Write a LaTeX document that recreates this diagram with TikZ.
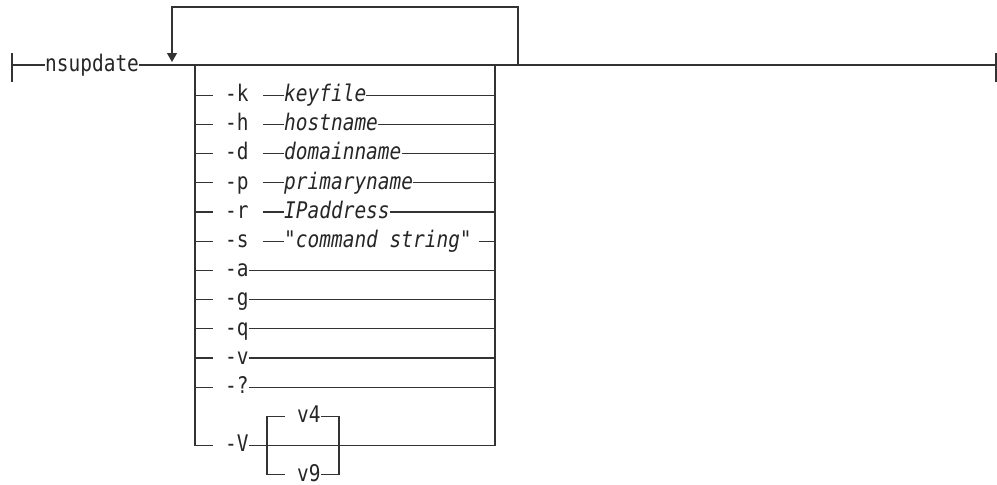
\documentclass[tikz,border=0pt]{standalone}
\usepackage{fontspec}
\usepackage{tikz}
\usetikzlibrary{arrows.meta, positioning}
\newfontfamily\synfam[FakeStretch=0.85]{DejaVu Sans Mono}
\newcommand{\synfont}{\synfam\fontsize{22.9}{26}\selectfont}

\begin{document}
\begin{tikzpicture}[
  x = 1pt, y = -1pt,
  rail/.style     = {line width=1.3pt, black!80},
  kw/.style       = {inner sep=0pt, text=black!85, font=\synfont},
  var/.style      = {inner sep=0pt, text=black!85, font=\synfont\itshape},
  loopback/.style = {rail, -{Triangle[length=9pt, width=10pt]}},
]
  \synfont % so that the mid anchors use the diagram's ex
  \useasboundingbox (0,0) rectangle (997,485);

  % main line
  \coordinate (start)  at (12,65);
  \coordinate (finish) at (996,65);
  \node[kw, anchor=mid west] (cmd) at (45,65) {nsupdate};
  \draw[rail] ([yshift=12pt]start) -- ([yshift=-17pt]start);
  \draw[rail] ([yshift=12pt]finish) -- ([yshift=-17pt]finish);
  \draw[rail] (start) -- (cmd.mid west);
  \draw[rail] (cmd.mid east) -- (finish);

  % repeat loop
  \coordinate (loopin)  at (518,65);
  \coordinate (loopout) at (172,62);
  \draw[loopback] (loopin) -- (518,7) -| (loopout);

  % choice box
  \coordinate (boxTL) at (195,65);
  \coordinate (boxTR) at (495,65);

  % options with a value
  \foreach \f/\a [count=\i] in {k/keyfile, h/hostname, d/domainname,
                                p/primaryname, r/IPaddress} {
    \coordinate (boxL\i) at (195,{95.2+(\i-1)*29.2});
    \coordinate (boxR\i) at (495,{95.2+(\i-1)*29.2});
    \node[kw, anchor=mid west]  (flag\i) at (225,{95.2+(\i-1)*29.2}) {-\f};
    \node[var, anchor=mid west] (arg\i)  at (284,{95.2+(\i-1)*29.2}) {\a};
    \draw[rail] (boxL\i) -- ++(18,0);
    \draw[rail] ([xshift=14pt]flag\i.mid east) -- (arg\i.mid west);
    \draw[rail] (arg\i.mid east) -- (boxR\i);
  }
  \coordinate (boxL6) at (195,241.2);
  \coordinate (boxR6) at (495,241.2);
  \node[kw, anchor=mid west]  (flag6) at (225,241.2) {-s};
  \node[var, anchor=mid west] (arg6)  at (284,241.2) {"command string"};
  \draw[rail] (boxL6) -- ++(18,0);
  \draw[rail] ([xshift=14pt]flag6.mid east) -- (arg6.mid west);
  \draw[rail] ([xshift=7pt]arg6.mid east) -- (boxR6);

  % plain flags
  \foreach \f [count=\i from 7] in {a, g, q, v, ?} {
    \coordinate (boxL\i) at (195,{95.2+(\i-1)*29.2});
    \coordinate (boxR\i) at (495,{95.2+(\i-1)*29.2});
    \node[kw, anchor=mid west] (flag\i) at (225,{95.2+(\i-1)*29.2}) {-\f};
    \draw[rail] (boxL\i) -- ++(18,0);
    \draw[rail] (flag\i.mid east) -- (boxR\i);
  }

  % -V with its version choice
  \coordinate (boxBL) at (195,445.6);
  \coordinate (boxBR) at (495,445.6);
  \node[kw, anchor=mid west] (flagV) at (225,445.6) {-V};
  \draw[rail] (boxTL) -- (boxBL) -- ++(18,0);
  \draw[rail] (boxTR) -- (boxBR);
  \draw[rail] (flagV.mid east) -- (boxBR);

  \coordinate (verTL) at (267,416.4);
  \coordinate (verBL) at (267,474.8);
  \coordinate (verTR) at (339,416.4);
  \coordinate (verBR) at (339,474.8);
  \node[kw, anchor=mid west] (v4) at (297,416.4) {v4};
  \node[kw, anchor=mid west] (v9) at (297,474.8) {v9};
  \draw[rail] (v4.mid west) ++(-12,0) -- (verTL) -- (verBL) -- ++(18,0);
  \draw[rail] (v4.mid east) -- (verTR) -- (verBR) -- (v9.mid east);
\end{tikzpicture}
\end{document}
